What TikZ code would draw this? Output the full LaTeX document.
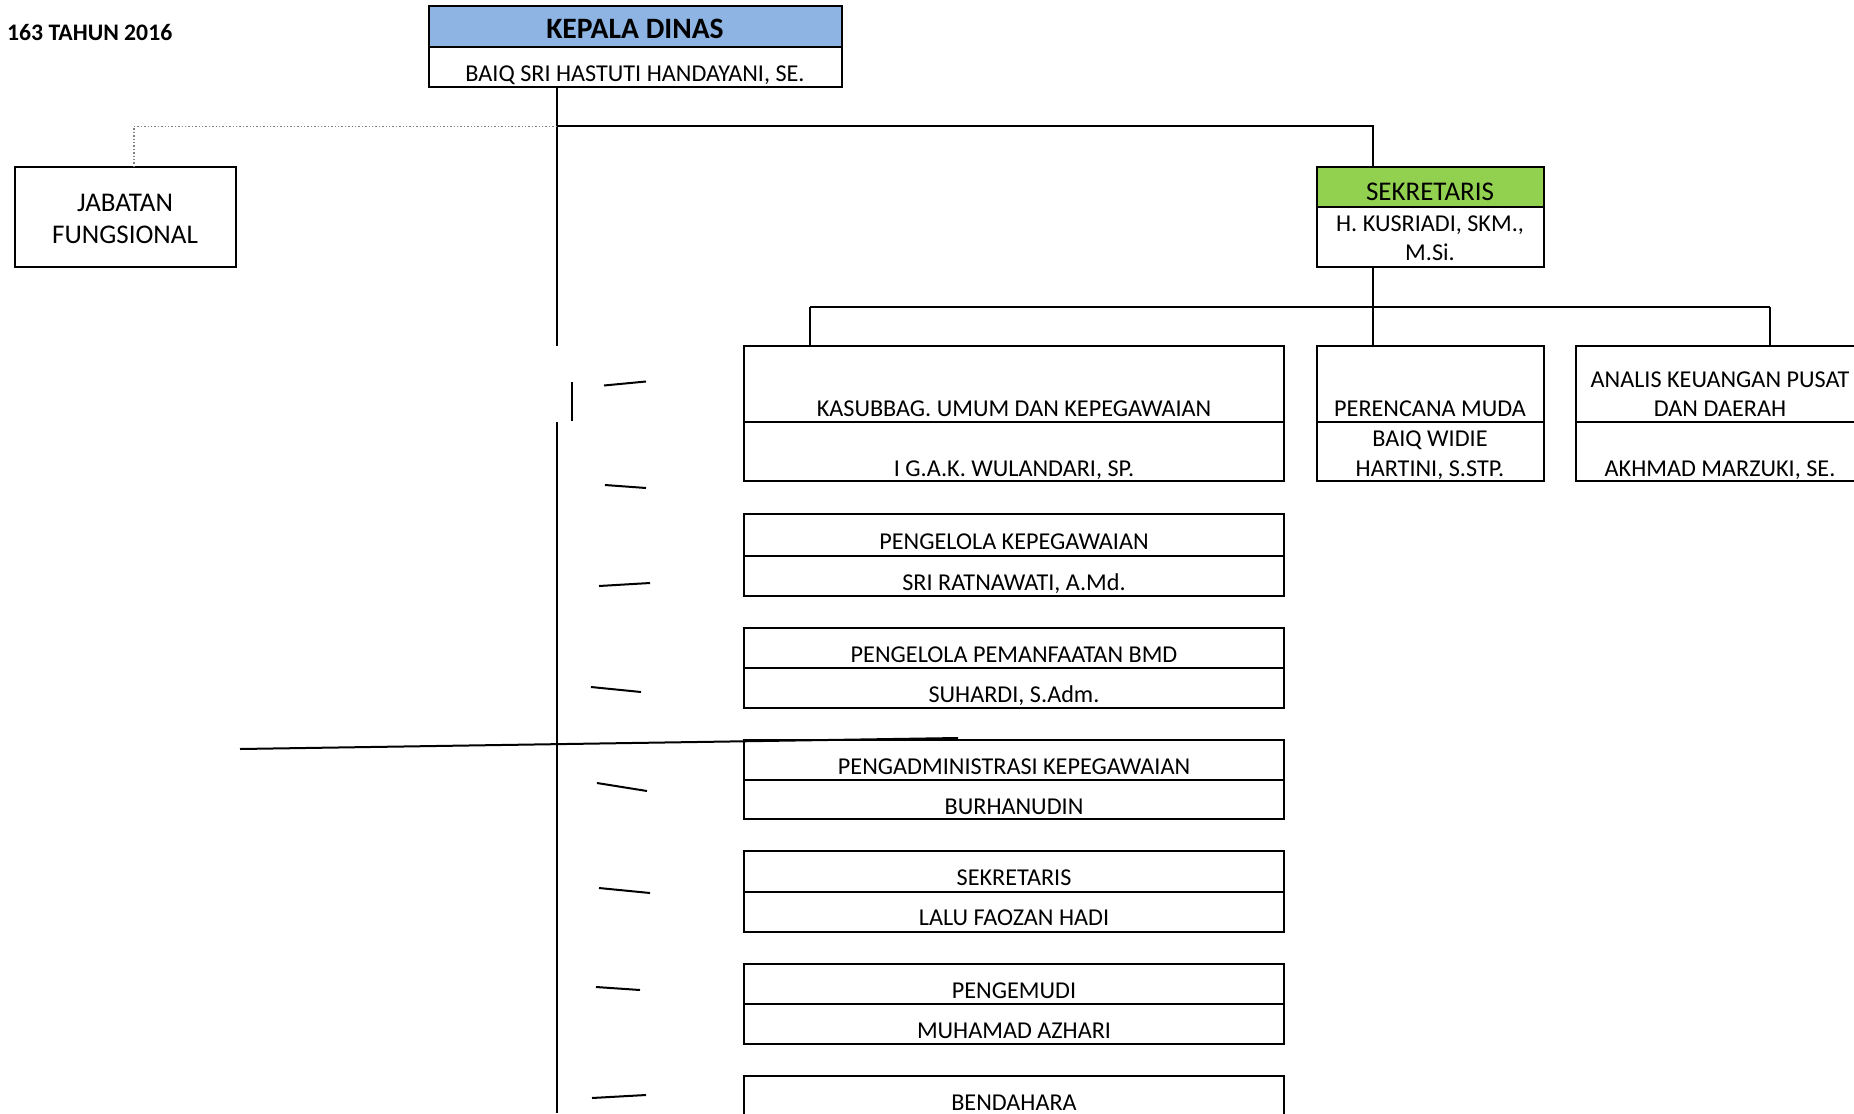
\documentclass[tikz,border=0pt]{standalone}
\usepackage{fontspec}
\setmainfont{Carlito}
\definecolor{kdblue}{HTML}{8DB4E2}
\definecolor{sekgreen}{HTML}{92D050}
\newcommand\mkcell[6]{%
  \node[cell,#6,minimum width={#4-#2},minimum height={#5-#3}] (#1) at ({(#2+#4)/2},{(#3+#5)/2}) {};}
\begin{document}
\begin{tikzpicture}[x=1pt,y=-1pt,
  cell/.style={draw, line width=2pt, inner sep=0pt, outer sep=0pt},
  conn/.style={line width=2pt},
  dotconn/.style={line width=1.4pt, gray, dotted},
  stroke/.style={line width=2pt, line cap=butt},
  txt/.style={font=\fontsize{24.2}{29}\selectfont, inner sep=0pt, text height=15.6pt, text depth=0pt, yshift=-1.3pt},
  bigtxt/.style={font=\fontsize{27}{32}\selectfont, inner sep=0pt, text height=17.4pt, text depth=0pt, yshift=-1.3pt},
  boldtxt/.style={font=\fontsize{29.6}{35}\selectfont\bfseries, inner sep=0pt, text height=19.1pt, text depth=0pt, yshift=-1.3pt},
  titletxt/.style={font=\fontsize{23.7}{28}\selectfont\bfseries, inner sep=0pt, text height=15.3pt, text depth=0pt, yshift=-1pt}]
\useasboundingbox (0,0) rectangle (1854,1113);
\clip (0,0) rectangle (1854,1113);
\fill[white] (0,0) rectangle (1854,1113);

% title
\node[titletxt, anchor=west] (title) at (7,32) {163 TAHUN 2016};

% KEPALA DINAS
\mkcell{kdh}{429}{6}{842}{47}{fill=kdblue}
\mkcell{kdb}{429}{47}{842}{87}{}
\node[boldtxt] (kdht) at (635,28) {KEPALA DINAS};
\node[txt] (kdbt) at (635,72) {BAIQ SRI HASTUTI HANDAYANI, SE.};

% JABATAN FUNGSIONAL
\mkcell{jf}{15}{167}{236}{267}{}
\node[bigtxt] (jft1) at (125,201) {JABATAN};
\node[bigtxt] (jft2) at (125,233) {FUNGSIONAL};

% SEKRETARIS
\mkcell{sekh}{1317}{167}{1544}{207}{fill=sekgreen}
\mkcell{sekb}{1317}{207}{1544}{267}{}
\node[bigtxt] (sekht) at (1430,190) {SEKRETARIS};
\node[txt] (sekb1) at (1430,222) {H. KUSRIADI, SKM.,};
\node[txt] (sekb2) at (1430,251) {M.Si.};

% KASUBBAG
\mkcell{kash}{744}{346}{1284}{422}{}
\mkcell{kasb}{744}{422}{1284}{481}{}
\node[txt] (kast) at (1014,407) {KASUBBAG. UMUM DAN KEPEGAWAIAN};
\node[txt] (kasn) at (1014,467) {I G.A.K. WULANDARI, SP.};

% PERENCANA MUDA
\mkcell{perh}{1317}{346}{1544}{422}{}
\mkcell{perb}{1317}{422}{1544}{481}{}
\node[txt] (pert) at (1430,407) {PERENCANA MUDA};
\node[txt] (pern1) at (1430,437) {BAIQ WIDIE};
\node[txt] (pern2) at (1430,467) {HARTINI, S.STP.};

% ANALIS
\mkcell{anah}{1576}{346}{1864}{422}{}
\mkcell{anab}{1576}{422}{1864}{481}{}
\node[txt] (anat1) at (1720,378) {ANALIS KEUANGAN PUSAT};
\node[txt] (anat2) at (1720,407) {DAN DAERAH};
\node[txt] (anan) at (1720,467) {AKHMAD MARZUKI, SE.};

% staff boxes
\mkcell{pkh}{744}{514}{1284}{556}{}
\mkcell{pkb}{744}{556}{1284}{596}{}
\node[txt] (pkt) at (1014,540) {PENGELOLA KEPEGAWAIAN};
\node[txt] (pkn) at (1014,581) {SRI RATNAWATI, A.Md.};

\mkcell{bmdh}{744}{628}{1284}{668}{}
\mkcell{bmdb}{744}{668}{1284}{708}{}
\node[txt] (bmdt) at (1014,653) {PENGELOLA PEMANFAATAN BMD};
\node[txt] (bmdn) at (1014,693) {SUHARDI, S.Adm.};

\mkcell{pah}{744}{740}{1284}{780}{}
\mkcell{pab}{744}{780}{1284}{819}{}
\node[txt] (pat) at (1014,765) {PENGADMINISTRASI KEPEGAWAIAN};
\node[txt] (pan) at (1014,805) {BURHANUDIN};

\mkcell{s2h}{744}{851}{1284}{892}{}
\mkcell{s2b}{744}{892}{1284}{932}{}
\node[txt] (s2t) at (1014,876) {SEKRETARIS};
\node[txt] (s2n) at (1014,916) {LALU FAOZAN HADI};

\mkcell{pgh}{744}{964}{1284}{1004}{}
\mkcell{pgb}{744}{1004}{1284}{1044}{}
\node[txt] (pgt) at (1014,989) {PENGEMUDI};
\node[txt] (pgn) at (1014,1029) {MUHAMAD AZHARI};

\mkcell{bdh}{744}{1076}{1284}{1150}{}
\node[txt] (bdt) at (1014,1101) {BENDAHARA};

% connector coordinates
\coordinate (trunk) at (557,126.5);
\coordinate (trunkgap1) at (557,346);
\coordinate (trunkgap2) at (557,422);
\coordinate (trunkend) at (557,1113);
\coordinate (jfcorner) at (134,126.5);
\coordinate (sekcorner) at (1373,126.5);
\coordinate (sekbus) at (1373,307);
\coordinate (busL) at (810,307);
\coordinate (busR) at (1770,307);
\coordinate (sideA) at (572,382);
\coordinate (sideB) at (572,421);

% connectors
\draw[conn] (kdb.south -| trunk) -- (trunkgap1);
\draw[conn] (trunkgap2) -- (trunkend);
\draw[conn] (sideA) -- (sideB);
\draw[conn] (trunk) -- (sekcorner) -- (sekh.north -| sekcorner);
\draw[dotconn] (trunk) -- (jfcorner) -- (jf.north -| jfcorner);
\draw[conn] (sekb.south -| sekbus) -- (sekbus);
\draw[conn] (busL) -- (busR);
\draw[conn] (busL) -- (kash.north -| busL);
\draw[conn] (sekbus) -- (perh.north -| sekbus);
\draw[conn] (busR) -- (anah.north -| busR);

% stray strokes
\coordinate (k1a) at (604,385.5); \coordinate (k1b) at (646,381.5);
\coordinate (k2a) at (605,485);   \coordinate (k2b) at (646,488);
\coordinate (k3a) at (599,586);   \coordinate (k3b) at (650,583);
\coordinate (k4a) at (591,687);   \coordinate (k4b) at (641,692);
\coordinate (k5a) at (597,783);   \coordinate (k5b) at (647,791);
\coordinate (k6a) at (599,888);   \coordinate (k6b) at (650,893);
\coordinate (k7a) at (596,987);   \coordinate (k7b) at (640,990);
\coordinate (k8a) at (592,1098);  \coordinate (k8b) at (646,1095);
\coordinate (la) at (240,749);    \coordinate (lb) at (958,738);
\foreach \i in {1,...,8} {\draw[stroke] (k\i a) -- (k\i b);}
\draw[stroke] (la) -- (lb);
\end{tikzpicture}
\end{document}
